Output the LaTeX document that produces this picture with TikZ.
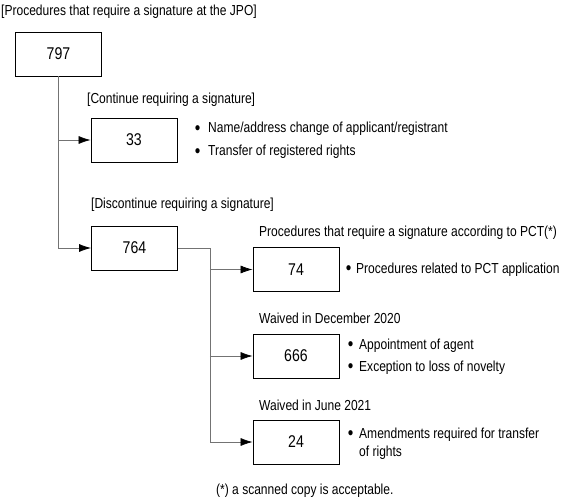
\documentclass[tikz,border=0pt]{standalone}
\usepackage{fontspec}
\setmainfont{Liberation Sans}[FakeStretch=0.83]
\usepackage{xcolor}
\usetikzlibrary{arrows.meta, positioning, calc}

\newcommand{\bul}{\makebox[7pt][c]{\raisebox{-1.5pt}{\fontsize{19}{19}\selectfont\textbullet}}}

\begin{document}
\begin{tikzpicture}[x=1pt, y=-1pt, >=Latex,
  numbox/.style = {draw, line width=0.8pt, minimum width=86pt, minimum height=44pt,
                   inner sep=0pt, font=\fontsize{17}{19}\selectfont},
  lbl/.style    = {anchor=west, inner sep=0pt, font=\fontsize{14.5}{17}\selectfont},
  link/.style   = {draw=black!55, line width=0.7pt},
  arr/.style    = {link, -{Latex[length=12pt, width=8pt, black]}}
]
\useasboundingbox (0,0) rectangle (583,500);

%% --- Boxes ---
\node[numbox] (total) at (58.5,54)  {797};
\node[numbox] (cont)  at (134,140)  {33};
\node[numbox] (disc)  at (134.5,248) {764};
\node[numbox] (pct)   at (296,269.5) {74};
\node[numbox] (dec)   at (296,356)  {666};
\node[numbox] (jun)   at (296,442)  {24};

%% --- Headings ---
\node[lbl] (head)   at (1,12)    {[Procedures that require a signature at the JPO]};
\node[lbl] (hcont)  at (87,100)  {[Continue requiring a signature]};
\node[lbl] (hdisc)  at (91,205)  {[Discontinue requiring a signature]};
\node[lbl] (hpct)   at (259,233) {Procedures that require a signature according to PCT(*)};
\node[lbl] (hdec)   at (259,318) {Waived in December 2020};
\node[lbl] (hjun)   at (259,405) {Waived in June 2021};
\node[lbl] (note)   at (216,491) {(*) a scanned copy is acceptable.};

%% --- Bullet lists ---
\node[lbl] (lcont) at (194,141) {\begin{tabular}{@{}l@{\hspace{7pt}}l@{}}
  \bul & Name/address change of applicant/registrant\\[6pt]
  \bul & Transfer of registered rights\end{tabular}};
\node[lbl] (lpct) at (345,269.5) {\bul\hspace{4pt}Procedures related to PCT application};
\node[lbl] (ldec) at (347,357) {\begin{tabular}{@{}l@{\hspace{5pt}}l@{}}
  \bul & Appointment of agent\\[5pt]
  \bul & Exception to loss of novelty\end{tabular}};
\node[lbl] (ljun) at (347,444) {\begin{tabular}{@{}l@{\hspace{5pt}}l@{}}
  \bul & Amendments required for transfer\\[1pt]
   & of rights\end{tabular}};

%% --- Connectors ---
\coordinate (fork) at ($(disc.east)+(32,0)$);
\draw[arr] (total.south) |- (disc.west);
\draw[arr] (total.south |- cont.west) -- (cont.west);
\draw[arr] (disc.east) -- (fork) |- (jun.west);
\draw[arr] (fork |- pct.west) -- (pct.west);
\draw[arr] (fork |- dec.west) -- (dec.west);
\end{tikzpicture}
\end{document}
